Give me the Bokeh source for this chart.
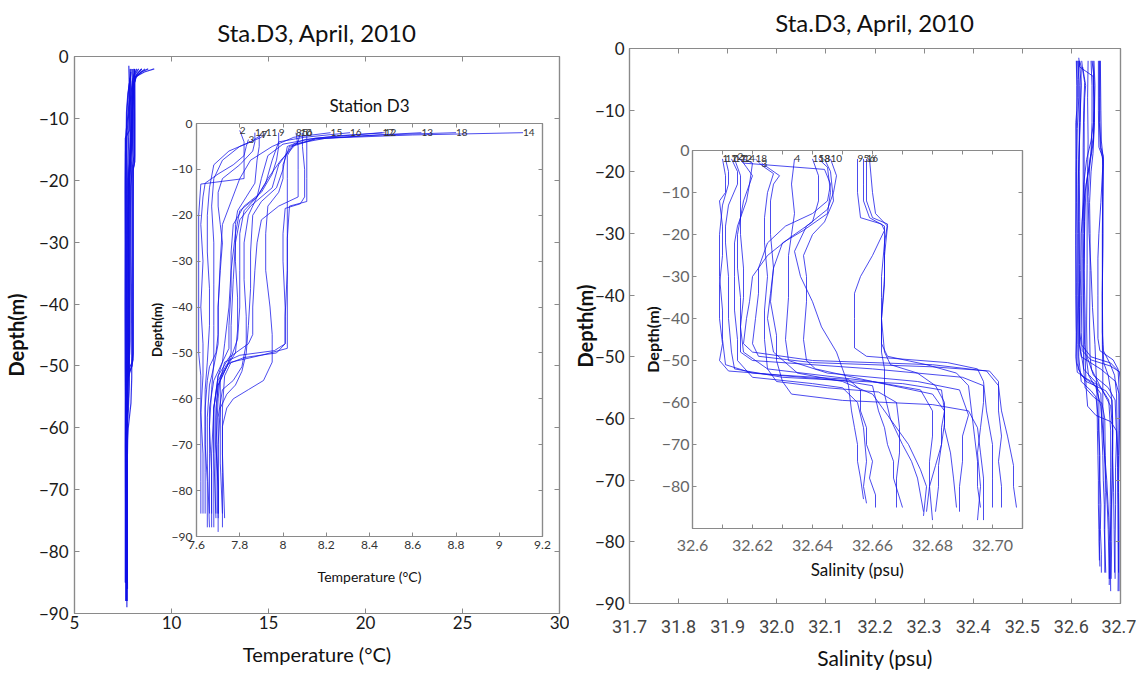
from bokeh.plotting import figure
from bokeh.models import LinearAxis, FixedTicker
from bokeh.layouts import row
from bokeh.embed import file_html
from bokeh.resources import INLINE
from bokeh.core.properties import value

# ---------------------------------------------------------------- data
# CTD casts at Sta.D3, April 2010: (depth m, value) pairs per cast.
temp_st01 = [(-2.0, 7.87), (-4, 7.87), (-6, 7.86), (-9, 7.80), (-12, 7.72), (-15, 7.70), (-18, 7.70), (-22, 7.71), (-26, 7.72), (-32, 7.71), (-40, 7.70), (-46, 7.70), (-50, 7.69), (-53, 7.66), (-56, 7.65), (-62, 7.64), (-70, 7.64), (-78, 7.65), (-88, 7.65)]
temp_st02 = [(-1.5, 7.80), (-4, 7.82), (-8, 7.82), (-12, 7.82), (-12.6, 7.72), (-13.2, 7.62), (-20, 7.61), (-30, 7.61), (-40, 7.61), (-50, 7.61), (-55, 7.62), (-62, 7.62), (-70, 7.62), (-78, 7.62), (-85, 7.62)]
temp_st03 = [(-3.5, 7.84), (-5, 7.83), (-7, 7.82), (-9, 7.77), (-11, 7.70), (-13, 7.64), (-16, 7.63), (-22, 7.62), (-30, 7.63), (-40, 7.62), (-48, 7.63), (-55, 7.63), (-63, 7.62), (-72, 7.63), (-85, 7.63)]
temp_st04 = [(-2.5, 7.89), (-5, 7.89), (-8, 7.88), (-13, 7.87), (-16, 7.83), (-19, 7.79), (-22, 7.78), (-30, 7.78), (-38, 7.79), (-45, 7.79), (-50, 7.78), (-53, 7.74), (-57, 7.70), (-62, 7.69), (-70, 7.69), (-80, 7.70), (-89, 7.70)]
temp_st05 = [(-2, 8.09), (-5, 8.09), (-10, 8.10), (-16, 8.10), (-17.5, 8.08), (-18.5, 8.01), (-24, 8.00), (-30, 8.00), (-40, 8.01), (-48, 8.01), (-50, 7.97), (-51, 7.82), (-52.5, 7.74), (-55, 7.71), (-60, 7.70), (-70, 7.69), (-78, 7.70), (-85, 7.70)]
temp_st06 = [(-2, 8.11), (-6, 8.11), (-12, 8.11), (-17, 8.11), (-18, 8.03), (-25, 8.02), (-35, 8.02), (-45, 8.02), (-49, 8.02), (-50.5, 7.90), (-52, 7.76), (-55, 7.73), (-62, 7.72), (-72, 7.72), (-86, 7.73)]
temp_st07 = [(-2.5, 7.90), (-4, 7.85), (-6, 7.75), (-9, 7.68), (-14, 7.66), (-20, 7.65), (-28, 7.65), (-36, 7.66), (-44, 7.66), (-52, 7.65), (-58, 7.64), (-66, 7.64), (-76, 7.64), (-85, 7.64)]
temp_st08 = [(-2, 8.06), (-5, 8.07), (-10, 8.07), (-16, 8.07), (-18, 7.98), (-21, 7.90), (-26, 7.88), (-32, 7.87), (-40, 7.86), (-46, 7.86), (-48, 7.84), (-51, 7.75), (-55, 7.70), (-62, 7.68), (-72, 7.67), (-88, 7.67)]
temp_st09 = [(-2, 7.98), (-5, 7.98), (-8, 7.97), (-11, 7.95), (-15, 7.90), (-18, 7.82), (-22, 7.77), (-28, 7.76), (-36, 7.76), (-44, 7.75), (-49, 7.75), (-52, 7.72), (-56, 7.68), (-62, 7.66), (-72, 7.66), (-85, 7.66)]
temp_st10 = [(-2, 8.08), (-4, 8.07), (-6, 8.03), (-8, 7.99), (-12, 7.93), (-16, 7.88), (-20, 7.84), (-26, 7.82), (-34, 7.82), (-42, 7.83), (-48, 7.83), (-53, 7.81), (-56, 7.77), (-58, 7.72), (-64, 7.70), (-74, 7.70), (-86, 7.70)]
temp_st11 = [(-2, 7.92), (-3, 7.90), (-5, 7.80), (-8, 7.72), (-12, 7.68), (-18, 7.67), (-26, 7.68), (-35, 7.68), (-44, 7.68), (-52, 7.68), (-58, 7.67), (-66, 7.66), (-76, 7.67), (-85, 7.67)]
temp_st12 = [(-2, 8.47), (-2.6, 8.30), (-3.2, 8.15), (-4.5, 8.00), (-7, 7.93), (-12, 7.90), (-16, 7.88), (-19, 7.82), (-24, 7.80), (-32, 7.80), (-40, 7.80), (-47, 7.79), (-51, 7.76), (-54, 7.73), (-57, 7.70), (-64, 7.69), (-74, 7.69), (-85, 7.69)]
temp_st13 = [(-2, 8.64), (-2.6, 8.40), (-3.4, 8.15), (-5, 8.04), (-9, 7.98), (-14, 7.95), (-18, 7.85), (-21, 7.80), (-26, 7.78), (-34, 7.77), (-44, 7.76), (-50, 7.76), (-53, 7.74), (-56, 7.70), (-62, 7.68), (-72, 7.68), (-88, 7.68)]
temp_st14 = [(-2, 9.11), (-2.5, 8.60), (-3.2, 8.20), (-4.5, 8.05), (-7, 8.02), (-12, 8.02), (-17, 8.02), (-24, 8.02), (-32, 8.02), (-42, 8.01), (-48, 8.01), (-49.5, 7.96), (-50.5, 7.80), (-52, 7.73), (-56, 7.71), (-64, 7.71), (-74, 7.71), (-85, 7.72)]
temp_st15 = [(-2, 8.22), (-3, 8.05), (-5, 7.95), (-8, 7.85), (-12, 7.80), (-17, 7.76), (-22, 7.72), (-30, 7.71), (-40, 7.70), (-48, 7.70), (-53, 7.68), (-57, 7.66), (-64, 7.65), (-74, 7.65), (-88, 7.66)]
temp_st16 = [(-2, 8.31), (-3, 8.10), (-4, 7.98), (-8, 7.95), (-13, 7.92), (-16, 7.88), (-19, 7.80), (-24, 7.78), (-32, 7.76), (-40, 7.75), (-48, 7.73), (-52, 7.72), (-55, 7.70), (-62, 7.68), (-72, 7.68), (-86, 7.69)]
temp_st17 = [(-2, 8.46), (-2.7, 8.25), (-3.5, 8.10), (-5, 8.02), (-10, 8.00), (-14, 7.97), (-17, 7.90), (-20, 7.86), (-28, 7.85), (-36, 7.85), (-44, 7.84), (-50, 7.83), (-54, 7.81), (-57, 7.78), (-59, 7.74), (-62, 7.71), (-70, 7.70), (-85, 7.70)]
temp_st18 = [(-2, 8.80), (-2.5, 8.45), (-3.3, 8.15), (-5, 8.03), (-9, 8.00), (-12, 8.00), (-15, 7.98), (-18, 7.93), (-24, 7.92), (-32, 7.92), (-40, 7.94), (-46, 7.95), (-52, 7.95), (-56, 7.91), (-58, 7.84), (-60, 7.77), (-62, 7.74), (-66, 7.72), (-76, 7.72), (-88, 7.72)]

sal_st01 = [(-2, 32.610), (-6, 32.611), (-10, 32.611), (-12, 32.609), (-18, 32.610), (-25, 32.610), (-32, 32.609), (-40, 32.609), (-46, 32.610), (-50, 32.609), (-52.5, 32.612), (-53.5, 32.630), (-54.5, 32.652), (-57, 32.656), (-62, 32.656), (-66, 32.658), (-70, 32.658), (-74, 32.660), (-78, 32.659), (-82, 32.661), (-85, 32.661)]
sal_st02 = [(-1.5, 32.615), (-3, 32.617), (-4.5, 32.644), (-8, 32.646), (-12, 32.645), (-15, 32.640), (-18, 32.631), (-22, 32.625), (-28, 32.622), (-34, 32.622), (-40, 32.621), (-46, 32.620), (-49, 32.622), (-50.5, 32.640), (-51.5, 32.680), (-52.5, 32.699), (-55, 32.702), (-62, 32.702), (-68, 32.703), (-74, 32.702), (-80, 32.703), (-85, 32.703)]
sal_st03 = [(-3, 32.623), (-4.5, 32.626), (-6, 32.629), (-8, 32.627), (-12, 32.626), (-20, 32.626), (-28, 32.627), (-36, 32.626), (-44, 32.628), (-50, 32.628), (-55, 32.630), (-58, 32.633), (-59.5, 32.650), (-60.5, 32.680), (-62, 32.692), (-66, 32.695), (-72, 32.696), (-78, 32.697), (-88, 32.697)]
sal_st04 = [(-2, 32.634), (-8, 32.633), (-15, 32.634), (-20, 32.633), (-25, 32.632), (-35, 32.632), (-45, 32.631), (-50, 32.632), (-53, 32.645), (-55, 32.675), (-57, 32.689), (-63, 32.692), (-68, 32.690), (-74, 32.690), (-80, 32.689), (-86, 32.689)]
sal_st05 = [(-2, 32.657), (-8, 32.657), (-12, 32.657), (-16, 32.659), (-18, 32.664), (-24, 32.664), (-30, 32.664), (-40, 32.663), (-46, 32.663), (-49, 32.665), (-51, 32.678), (-53, 32.688), (-56, 32.692), (-62, 32.693), (-68, 32.694), (-74, 32.695), (-80, 32.695), (-85, 32.696)]
sal_st06 = [(-2, 32.659), (-10, 32.660), (-15, 32.661), (-18, 32.665), (-25, 32.664), (-32, 32.664), (-40, 32.663), (-48, 32.664), (-51, 32.666), (-53, 32.675), (-56, 32.681), (-60, 32.684), (-65, 32.684), (-70, 32.683), (-75, 32.681), (-80, 32.679), (-86, 32.678)]
sal_st07 = [(-2, 32.613), (-5, 32.615), (-8, 32.615), (-13, 32.612), (-18, 32.611), (-22, 32.611), (-30, 32.612), (-40, 32.612), (-48, 32.613), (-52, 32.614), (-54, 32.630), (-55.5, 32.670), (-57, 32.683), (-62, 32.684), (-66, 32.684), (-72, 32.686), (-78, 32.687), (-85, 32.688)]
sal_st08 = [(-2, 32.644), (-5, 32.646), (-12, 32.647), (-17, 32.644), (-20, 32.640), (-25, 32.637), (-30, 32.638), (-36, 32.638), (-45, 32.637), (-50, 32.638), (-52, 32.641), (-55, 32.660), (-57, 32.676), (-62, 32.680), (-68, 32.680), (-74, 32.679), (-80, 32.679), (-88, 32.680)]
sal_st09 = [(-2, 32.655), (-10, 32.655), (-16, 32.656), (-17.5, 32.663), (-19, 32.664), (-25, 32.660), (-30, 32.656), (-34, 32.654), (-40, 32.654), (-47, 32.654), (-49, 32.658), (-50.5, 32.685), (-52, 32.695), (-55, 32.697), (-62, 32.698), (-70, 32.700), (-78, 32.700), (-85, 32.700)]
sal_st10 = [(-2, 32.646), (-6, 32.648), (-10, 32.647), (-14, 32.645), (-18, 32.638), (-24, 32.634), (-30, 32.636), (-36, 32.640), (-42, 32.643), (-48, 32.648), (-52, 32.650), (-56, 32.652), (-62, 32.653), (-66, 32.654), (-70, 32.655), (-74, 32.655), (-78, 32.656), (-83, 32.657)]
sal_st11 = [(-2, 32.611), (-5, 32.612), (-8, 32.612), (-13, 32.610), (-20, 32.609), (-30, 32.609), (-38, 32.610), (-45, 32.610), (-51, 32.611), (-53, 32.620), (-54.8, 32.650), (-56, 32.660), (-62, 32.662), (-66, 32.664), (-70, 32.665), (-74, 32.667), (-78, 32.667), (-85, 32.670)]
sal_st12 = [(-2, 32.616), (-4, 32.618), (-6, 32.620), (-12, 32.617), (-20, 32.615), (-28, 32.615), (-35, 32.616), (-42, 32.616), (-48, 32.617), (-52, 32.625), (-55, 32.660), (-58, 32.680), (-62, 32.684), (-66, 32.683), (-70, 32.683), (-75, 32.682), (-80, 32.682), (-86, 32.681)]
sal_st13 = [(-2, 32.642), (-4, 32.645), (-10, 32.646), (-15, 32.645), (-19, 32.637), (-22, 32.630), (-28, 32.627), (-34, 32.626), (-40, 32.625), (-48, 32.627), (-53, 32.635), (-55, 32.650), (-58, 32.660), (-63, 32.665), (-70, 32.672), (-76, 32.676), (-80, 32.678), (-87, 32.677)]
sal_st14 = [(-2, 32.617), (-3, 32.620), (-8, 32.619), (-12, 32.618), (-18, 32.615), (-22, 32.614), (-30, 32.614), (-38, 32.614), (-45, 32.615), (-50, 32.615), (-54, 32.620), (-55.5, 32.640), (-56.5, 32.650), (-60, 32.655), (-66, 32.657), (-74, 32.658), (-80, 32.657), (-84, 32.658)]
sal_st15 = [(-2, 32.640), (-6, 32.642), (-12, 32.642), (-17, 32.640), (-21, 32.632), (-25, 32.625), (-30, 32.620), (-36, 32.619), (-40, 32.618), (-46, 32.617), (-48, 32.620), (-50, 32.640), (-51, 32.680), (-52.5, 32.698), (-56, 32.702), (-62, 32.703), (-68, 32.705), (-75, 32.707), (-80, 32.707), (-85, 32.708)]
sal_st16 = [(-2, 32.658), (-12, 32.658), (-16, 32.660), (-17.5, 32.665), (-22, 32.664), (-30, 32.663), (-35, 32.663), (-42, 32.663), (-48, 32.663), (-52, 32.664), (-58, 32.664), (-64, 32.666), (-70, 32.670), (-74, 32.673), (-78, 32.675), (-86, 32.677)]
sal_st17 = [(-2, 32.614), (-6, 32.616), (-12, 32.616), (-20, 32.616), (-28, 32.617), (-35, 32.617), (-42, 32.616), (-48, 32.616), (-50, 32.620), (-52, 32.660), (-54, 32.690), (-56, 32.697), (-60, 32.697), (-66, 32.696), (-72, 32.695), (-80, 32.696), (-88, 32.695)]
sal_st18 = [(-2, 32.621), (-3.5, 32.623), (-5.5, 32.627), (-10, 32.625), (-16, 32.624), (-22, 32.624), (-30, 32.625), (-38, 32.624), (-45, 32.624), (-52, 32.625), (-55, 32.628), (-56.5, 32.645), (-57.5, 32.662), (-60, 32.668), (-66, 32.669), (-72, 32.669), (-78, 32.668), (-85, 32.668)]

station_ids = ["1", "2", "3", "4", "5", "6", "7", "8", "9", "10", "11", "12", "13", "14", "15", "16", "17", "18"]
temp_casts = [temp_st01, temp_st02, temp_st03, temp_st04, temp_st05, temp_st06, temp_st07, temp_st08, temp_st09,
              temp_st10, temp_st11, temp_st12, temp_st13, temp_st14, temp_st15, temp_st16, temp_st17, temp_st18]
sal_casts = [sal_st01, sal_st02, sal_st03, sal_st04, sal_st05, sal_st06, sal_st07, sal_st08, sal_st09,
             sal_st10, sal_st11, sal_st12, sal_st13, sal_st14, sal_st15, sal_st16, sal_st17, sal_st18]

# axis ticks and their labels
depth_ticks = [0, -10, -20, -30, -40, -50, -60, -70, -80, -90]
depth_labels = ["0", "\u221210", "\u221220", "\u221230", "\u221240", "\u221250", "\u221260", "\u221270", "\u221280", "\u221290"]
temp_ticks = [5, 10, 15, 20, 25, 30]
temp_labels = ["5", "10", "15", "20", "25", "30"]
temp_zoom_ticks = [7.6, 7.8, 8.0, 8.2, 8.4, 8.6, 8.8, 9.0, 9.2]
temp_zoom_labels = ["7.6", "7.8", "8", "8.2", "8.4", "8.6", "8.8", "9", "9.2"]
sal_ticks = [31.7, 31.8, 31.9, 32.0, 32.1, 32.2, 32.3, 32.4, 32.5, 32.6, 32.7]
sal_labels = ["31.7", "31.8", "31.9", "32.0", "32.1", "32.2", "32.3", "32.4", "32.5", "32.6", "32.7"]
sal_zoom_ticks = [32.60, 32.62, 32.64, 32.66, 32.68, 32.70]
sal_zoom_labels = ["32.6", "32.62", "32.64", "32.66", "32.68", "32.70"]
sal_zoom_minor = [32.61, 32.63, 32.65, 32.67, 32.69]
depth_zoom_ticks = [0, -10, -20, -30, -40, -50, -60, -70, -80]

# ---------------------------------------------------------------- style
FONT = "Lato"
FRAME = "#8a8a8a"
BLUE = "#1010e8"
# Plots sharing a row get their borders aligned, so every panel uses the
# same left/top border and is then placed by the corner of its frame.
PAD_L, PAD_T = 90, 50


def panel(x_range, y_range, frame_x, frame_y, fw, fh, right, bottom):
    p = figure(x_range=x_range, y_range=y_range, frame_width=fw, frame_height=fh,
               min_border_left=PAD_L, min_border_right=right,
               min_border_top=PAD_T, min_border_bottom=bottom,
               x_axis_location=None, y_axis_location=None,
               output_backend="svg", toolbar_location=None,
               background_fill_color="white", border_fill_color=None,
               outline_line_color=FRAME, outline_line_width=1.2,
               styles={"position": "absolute",
                       "left": f"{frame_x - PAD_L}px", "top": f"{frame_y - PAD_T}px"})
    p.grid.visible = False
    return p


def axis(ticks, labels, tick_len, font, size, color, standoff, minor=None, show=True):
    ax = LinearAxis(ticker=FixedTicker(ticks=ticks, minor_ticks=minor or []),
                    major_label_overrides=dict(zip(ticks, labels if show else [""] * len(ticks))),
                    axis_line_color=FRAME, axis_line_width=1.2,
                    major_tick_line_color=FRAME, major_tick_in=tick_len, major_tick_out=0,
                    minor_tick_line_color=FRAME if minor else None,
                    minor_tick_in=tick_len, minor_tick_out=0,
                    major_label_text_font=font, major_label_text_font_size=size,
                    major_label_text_color=color,
                    major_label_standoff=standoff if show else 0)
    if not show:
        ax.major_label_text_font_size = "0px"
    return ax


def boxed(p, xt, xl, yt, yl, tick_len, font, size, color, xs, ys, x_minor=None):
    bx = axis(xt, xl, tick_len, font, size, color, xs, x_minor)
    ly = axis(yt, yl, tick_len, font, size, color, ys)
    tx = axis(xt, xl, tick_len, font, size, color, 0, x_minor, show=False)
    p.add_layout(bx, "below")
    p.add_layout(ly, "left")
    p.add_layout(tx, "above")
    p.add_layout(axis(yt, yl, tick_len, font, size, color, 0, show=False), "right")
    return bx, ly, tx


def label(ax, text, size, standoff, bold=False, color="#111111"):
    ax.axis_label = text
    ax.axis_label_text_font = FONT
    ax.axis_label_text_font_size = size
    ax.axis_label_text_font_style = "bold" if bold else "normal"
    ax.axis_label_text_color = color
    ax.axis_label_standoff = standoff


def casts(p, data, width=1.0, alpha=0.8):
    xs = [[v for _, v in c] for c in data]
    ys = [[z for z, _ in c] for c in data]
    p.multi_line(xs=xs, ys=ys, line_color=BLUE, line_width=width, line_alpha=alpha)


def station_tags(p, data):
    p.text(x=[c[0][1] for c in data], y=[c[0][0] for c in data], text=station_ids,
           text_font=value(FONT), text_font_size="10px", text_color="#333333",
           text_align="left", text_baseline="middle")


# ---------------------------------------------------------------- temperature, full scale
p_temp = panel((5, 30), (-90, 0), 74, 56, 485, 557, 10, 60)
bx, ly, tx = boxed(p_temp, temp_ticks, temp_labels, depth_ticks, depth_labels, 5, FONT, "17px", "#1a1a1a", 2, 6)
label(tx, "Sta.D3, April, 2010", "24px", 10)
label(bx, "Temperature (\u00b0C)", "20px", 10)
label(ly, "Depth(m)", "20px", 8, bold=True)
casts(p_temp, temp_casts, 1.2, 0.85)

# ---------------------------------------------------------------- salinity, full scale
p_sal = panel((31.7, 32.7), (-90, 0), 629, 48, 491, 555, 16, 70)
bx, ly, tx = boxed(p_sal, sal_ticks, sal_labels, depth_ticks, depth_labels, 5, "Roboto", "18px", "#444444", 16, 5)
ly.major_label_text_font = FONT
ly.major_label_text_font_size = "17px"
ly.major_label_text_color = "#222222"
label(tx, "Sta.D3, April, 2010", "24px", 12)
label(bx, "Salinity (psu)", "21px", 9)
label(ly, "Depth(m)", "20px", -5, bold=True)
casts(p_sal, sal_casts, 1.0, 0.8)

# ---------------------------------------------------------------- temperature, upper detail
p_tz = panel((7.6, 9.2), (-90, 0), 196, 123, 346, 413, 10, 60)
bx, ly, tx = boxed(p_tz, temp_zoom_ticks, temp_zoom_labels, depth_ticks, depth_labels, 4, FONT, "12px", "#333333", 4, 4)
label(tx, "Station D3", "17px", 8)
label(bx, "Temperature (\u00b0C)", "14px", 16)
label(ly, "Depth(m)", "13px", 4, bold=True)
casts(p_tz, temp_casts, 1.0, 0.75)
station_tags(p_tz, temp_casts)

# ---------------------------------------------------------------- salinity, detail
p_sz = panel((32.6, 32.71), (-90, 0), 692, 150, 330, 378, 10, 64)
bx, ly, tx = boxed(p_sz, sal_zoom_ticks, sal_zoom_labels, depth_zoom_ticks, depth_labels[:9], 4, FONT, "16px", "#666666", 11, 3,
                   x_minor=sal_zoom_minor)
label(bx, "Salinity (psu)", "17px", 5)
label(ly, "Depth(m)", "16px", -3, bold=True)
casts(p_sz, sal_casts, 1.0, 0.75)
station_tags(p_sz, sal_casts)

layout = row(p_temp, p_sal, p_tz, p_sz, width=1136, height=679)

with open("out.html", "w") as f:
    f.write(file_html(layout, INLINE))
